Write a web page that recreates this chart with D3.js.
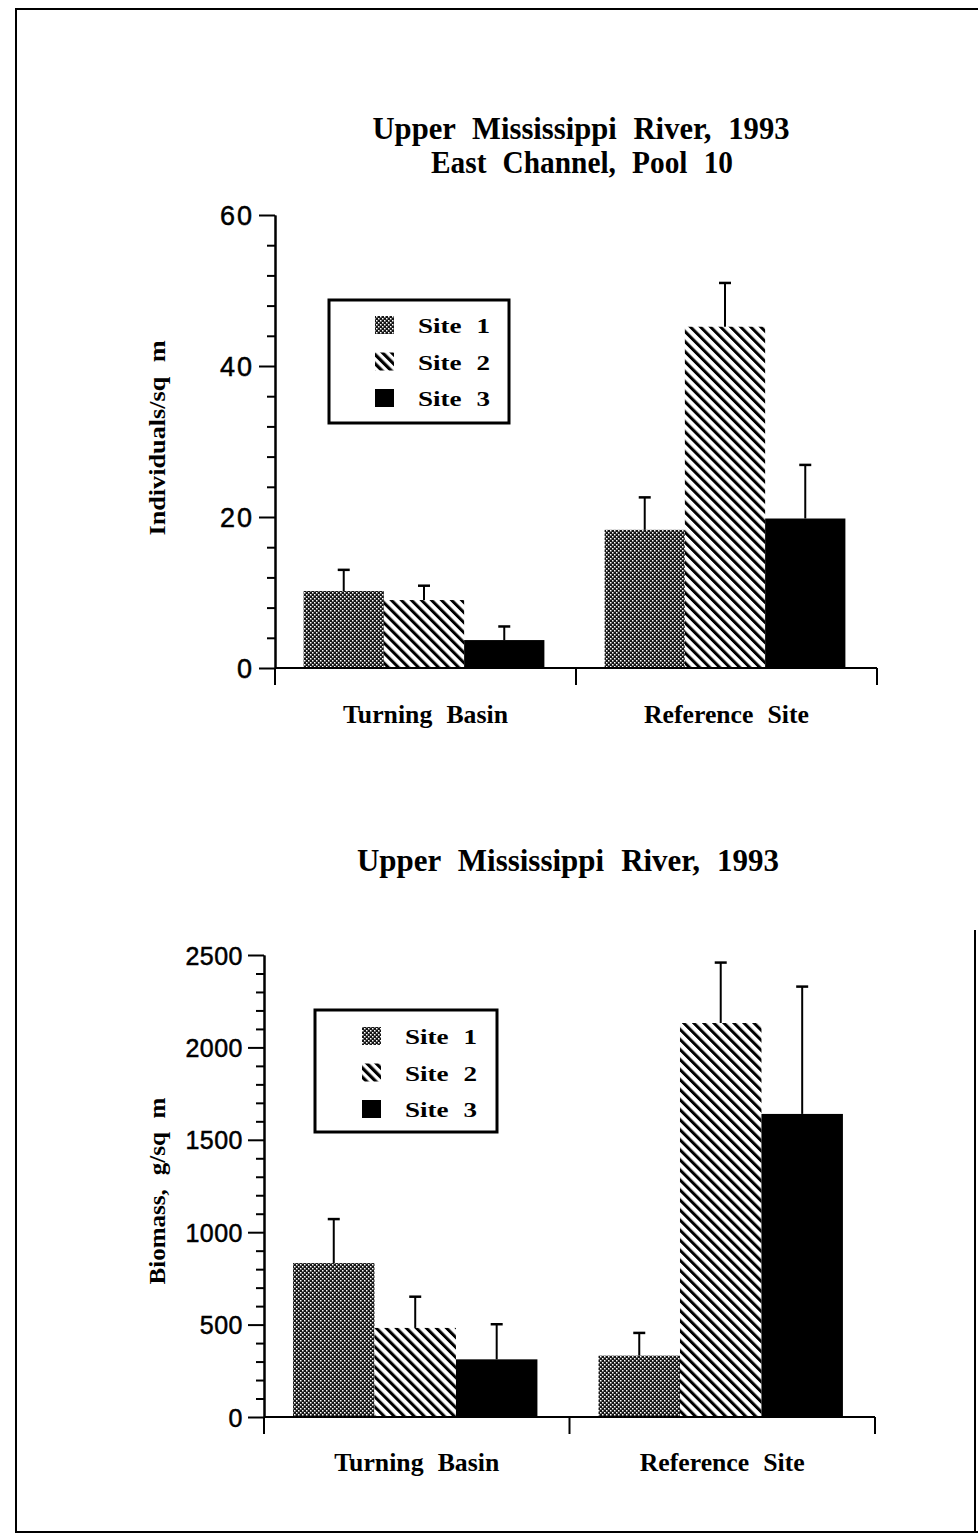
<!DOCTYPE html>
<html>
<head>
<meta charset="utf-8">
<script src="https://cdn.jsdelivr.net/npm/d3@7"></script>
<style>
  html, body { margin: 0; padding: 0; background: #fff; }
  svg { display: block; }
</style>
</head>
<body>
<svg id="chart" width="978" height="1539"></svg>
<script>
// ---------- DATA ----------
const categories = ["Turning Basin", "Reference Site"];
const sites = ["Site 1", "Site 2", "Site 3"];

// Panel 1: Individuals / sq m (mean and upper error)
const densitySite1 = [10.2, 18.3];
const densitySite2 = [9.0, 45.2];
const densitySite3 = [3.7, 19.8];
const densityErr1 = [2.8, 4.3];
const densityErr2 = [1.9, 5.8];
const densityErr3 = [1.8, 7.1];
const densityTicks = [0, 20, 40, 60];

// Panel 2: Biomass g / sq m
const biomassSite1 = [833, 332];
const biomassSite2 = [482, 2132];
const biomassSite3 = [312, 1640];
const biomassErr1 = [238, 123];
const biomassErr2 = [169, 327];
const biomassErr3 = [190, 689];
const biomassTicks = [0, 500, 1000, 1500, 2000, 2500];

const title1a = "Upper Mississippi River, 1993";
const title1b = "East Channel, Pool 10";
const title2 = "Upper Mississippi River, 1993";
const ylabel1 = "Individuals/sq m";
const ylabel2 = "Biomass, g/sq m";

// ---------- SETUP ----------
const svg = d3.select("#chart");
const serif = "'Liberation Serif', 'Times New Roman', serif";
const sans = "'Liberation Sans', Arial, sans-serif";

const defs = svg.append("defs");
// stipple pattern (Site 1)
const p1 = defs.append("pattern").attr("id", "stipple").attr("patternUnits", "userSpaceOnUse")
  .attr("width", 4).attr("height", 4);
p1.append("rect").attr("width", 4).attr("height", 4).attr("fill", "#151515");
p1.append("rect").attr("x", 0).attr("y", 0).attr("width", 1.5).attr("height", 1.5).attr("fill", "#fff");
p1.append("rect").attr("x", 2).attr("y", 2).attr("width", 1.5).attr("height", 1.5).attr("fill", "#fff");

// hatch pattern (Site 2)
function hatch(id, spacing, thick) {
  const p = defs.append("pattern").attr("id", id).attr("patternUnits", "userSpaceOnUse")
    .attr("width", spacing).attr("height", spacing)
    .attr("patternTransform", "rotate(-45)");
  p.append("rect").attr("width", spacing).attr("height", spacing).attr("fill", "#fff");
  p.append("rect").attr("x", 0).attr("y", 0).attr("width", thick).attr("height", spacing).attr("fill", "#000");
}
hatch("hatch", 7.1, 3.0);
hatch("hatchLegend", 6.5, 3.2);

const fills = ["url(#stipple)", "url(#hatch)", "#000"];
const legendFills = ["url(#stipple)", "url(#hatchLegend)", "#000"];

// page border
svg.append("path")
  .attr("d", "M980,9 L16,9 L16,1532 L980,1532")
  .attr("fill", "none").attr("stroke", "#000").attr("stroke-width", 2);
svg.append("line").attr("x1", 975).attr("x2", 975).attr("y1", 930).attr("y2", 1532)
  .attr("stroke", "#000").attr("stroke-width", 2);

function serifText(sel, size, len) {
  sel.attr("font-family", serif).attr("font-weight", "bold").attr("font-size", size)
    .attr("word-spacing", size * 0.3)
    .attr("textLength", len).attr("lengthAdjust", "spacingAndGlyphs");
  return sel;
}

function panel(cfg) {
  const g = svg.append("g");
  const y = d3.scaleLinear().domain([0, cfg.ymax]).range([cfg.y0, cfg.y1]);
  const x = d3.scaleBand().domain(categories).range([cfg.x0, cfg.x1]).padding(0);
  const bw = x.bandwidth();
  const x1 = d3.scaleBand().domain(sites).range([bw * 0.095, bw * 0.895]).padding(0);

  // bars
  cfg.values.forEach((vals, si) => {
    categories.forEach((c, ci) => {
      const v = vals[ci], e = cfg.errs[si][ci];
      const bx = x(c) + x1(sites[si]);
      g.append("rect")
        .attr("x", bx).attr("y", y(v))
        .attr("width", x1.bandwidth()).attr("height", y(0) - y(v))
        .attr("fill", fills[si]);
      const cx = bx + x1.bandwidth() / 2;
      g.append("line").attr("x1", cx).attr("x2", cx).attr("y1", y(v)).attr("y2", y(v + e))
        .attr("stroke", "#000").attr("stroke-width", 2);
      g.append("line").attr("x1", cx - 6).attr("x2", cx + 6).attr("y1", y(v + e)).attr("y2", y(v + e))
        .attr("stroke", "#000").attr("stroke-width", 2.5);
    });
  });

  // y axis minor ticks
  const minor = d3.range(0, cfg.ymax + 1e-9, cfg.minorStep).filter(t => !cfg.ticks.includes(t));
  g.append("g").attr("transform", `translate(${cfg.x0},0)`)
    .call(d3.axisLeft(y).tickValues(minor).tickSize(8).tickSizeOuter(0).tickFormat(""))
    .call(a => a.selectAll("path,line").attr("stroke", "#000").attr("stroke-width", 2));
  // y axis major ticks
  g.append("g").attr("transform", `translate(${cfg.x0},0)`)
    .call(d3.axisLeft(y).tickValues(cfg.ticks).tickSize(16).tickSizeOuter(0).tickPadding(5)
      .tickFormat(d3.format("d")))
    .call(a => {
      a.selectAll("path,line").attr("stroke", "#000").attr("stroke-width", 2);
      a.selectAll("text").attr("font-family", sans).attr("font-size", cfg.tickFont)
        .attr("letter-spacing", cfg.tickSpacing)
        .attr("stroke", "#000").attr("stroke-width", 0.5)
        .attr("fill", "#000").attr("dy", "0.36em");
    });

  // x axis line and boundary ticks
  g.append("line").attr("x1", cfg.x0).attr("x2", cfg.x1).attr("y1", y(0)).attr("y2", y(0))
    .attr("stroke", "#000").attr("stroke-width", 2);
  const bounds = [x(categories[0]), x(categories[1]), x(categories[1]) + bw];
  g.selectAll(".xb").data(bounds).enter().append("line")
    .attr("x1", d => d).attr("x2", d => d).attr("y1", y(0)).attr("y2", y(0) + 17)
    .attr("stroke", "#000").attr("stroke-width", 2);
  // category labels
  g.append("g").attr("transform", `translate(0,${y(0)})`)
    .call(d3.axisBottom(x).tickSize(0).tickPadding(cfg.catPad))
    .call(a => {
      a.select(".domain").remove();
      a.selectAll("text").attr("fill", "#000").each(function () {
        serifText(d3.select(this), 26, 165);
      });
    });

  // titles
  cfg.titles.forEach(t => {
    serifText(g.append("text").attr("x", t.x).attr("y", t.y).attr("text-anchor", "middle"), 31, t.len)
      .text(t.text);
  });

  // y label
  serifText(g.append("text").attr("transform", `translate(${cfg.ylx},${cfg.yly}) rotate(-90)`)
    .attr("text-anchor", "middle"), 24, cfg.ylen)
    .text(cfg.ylabel);

  // legend
  const L = cfg.legend;
  g.append("rect").attr("x", L.x).attr("y", L.y).attr("width", L.w).attr("height", L.h)
    .attr("fill", "#fff").attr("stroke", "#000").attr("stroke-width", 3);
  sites.forEach((s, i) => {
    g.append("rect").attr("x", L.sx).attr("y", L.sy + i * 36.5).attr("width", 19).attr("height", 18)
      .attr("fill", legendFills[i]);
    serifText(g.append("text").attr("x", L.tx).attr("y", L.sy + 17 + i * 36.5), 22, 72)
      .text(s);
  });
}

panel({
  ymax: 60, y0: 668, y1: 215, x0: 275, x1: 877, minorStep: 4, ticks: densityTicks,
  tickFont: 27, tickSpacing: 2,
  values: [densitySite1, densitySite2, densitySite3],
  errs: [densityErr1, densityErr2, densityErr3],
  catPad: 37,
  titles: [{ text: title1a, x: 581, y: 139, len: 417 }, { text: title1b, x: 582, y: 173, len: 302 }],
  ylabel: ylabel1, ylx: 165, yly: 438, ylen: 195,
  legend: { x: 329, y: 300, w: 180, h: 123, sx: 375, sy: 316, tx: 418 }
});

panel({
  ymax: 2500, y0: 1417, y1: 955, x0: 264, x1: 875, minorStep: 100, ticks: biomassTicks,
  tickFont: 25, tickSpacing: 0.5,
  values: [biomassSite1, biomassSite2, biomassSite3],
  errs: [biomassErr1, biomassErr2, biomassErr3],
  catPad: 36,
  titles: [{ text: title2, x: 568, y: 871, len: 422 }],
  ylabel: ylabel2, ylx: 165, yly: 1191, ylen: 187,
  legend: { x: 315, y: 1010, w: 182, h: 122, sx: 362, sy: 1027, tx: 405 }
});
</script>
</body>
</html>
